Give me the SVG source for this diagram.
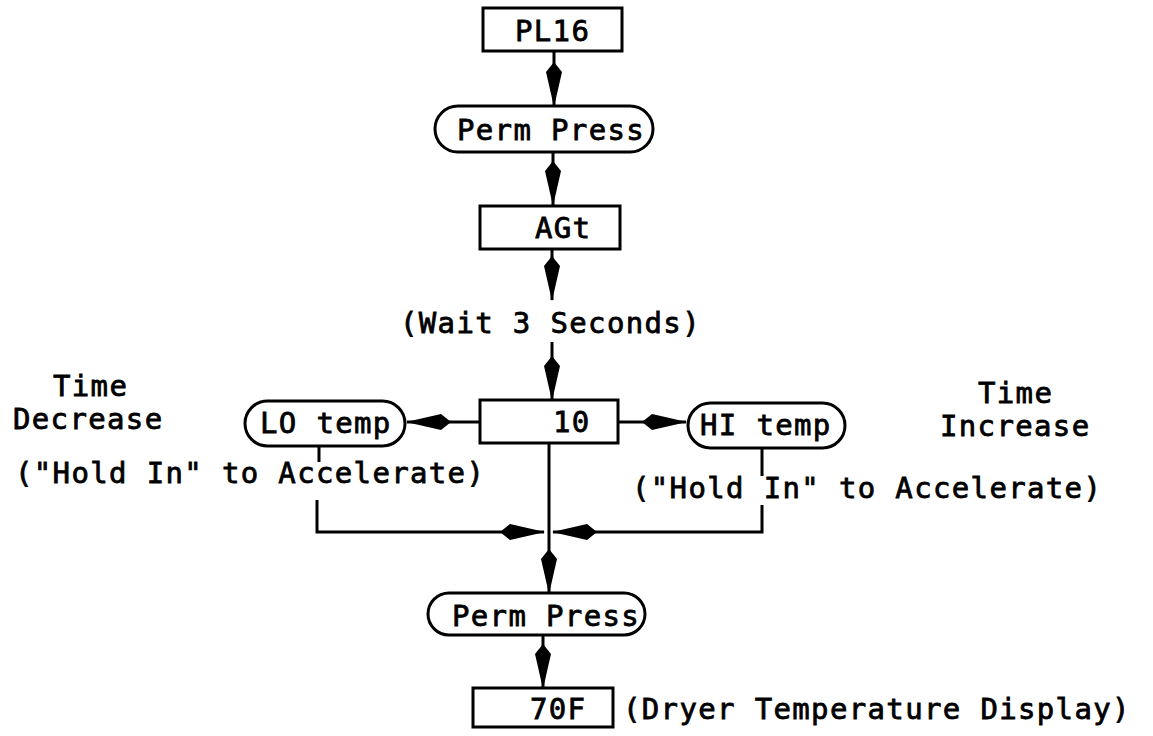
<svg xmlns="http://www.w3.org/2000/svg" width="1153" height="736" viewBox="0 0 1153 736">
<style>
.box{fill:#fff;stroke:#000;stroke-width:3}
.t{font-family:"DejaVu Sans Mono","Liberation Mono",monospace;font-size:29px;letter-spacing:1.35px;fill:#000;stroke:#000;stroke-width:0.8px}
.ln{fill:none;stroke:#000;stroke-width:3}
</style>
<defs>
<marker id="ah" viewBox="-48 -10 50 20" refX="0" refY="0" markerWidth="50" markerHeight="20" markerUnits="userSpaceOnUse" orient="auto">
<path d="M1,0 L-34,-8 L-44,0 L-34,8 Z" fill="#000"/>
</marker>
</defs>
<rect width="1153" height="736" fill="#fff"/>
<g id="connectors">
<line class="ln" x1="554" y1="52" x2="554" y2="106" marker-end="url(#ah)"/>
<line class="ln" x1="553" y1="152" x2="553" y2="205" marker-end="url(#ah)"/>
<line class="ln" x1="552" y1="249" x2="552" y2="300" marker-end="url(#ah)"/>
<line class="ln" x1="552" y1="342" x2="552" y2="400" marker-end="url(#ah)"/>
<line class="ln" x1="480" y1="422" x2="407" y2="422" marker-end="url(#ah)"/>
<line class="ln" x1="618" y1="422" x2="686" y2="422" marker-end="url(#ah)"/>
<line class="ln" x1="549" y1="443" x2="549" y2="593" marker-end="url(#ah)"/>
<line class="ln" x1="319" y1="446" x2="319" y2="462"/>
<polyline class="ln" points="317,500 317,532 544,532" marker-end="url(#ah)"/>
<line class="ln" x1="762" y1="448" x2="762" y2="476"/>
<polyline class="ln" points="762,505 762,532 553,532" marker-end="url(#ah)"/>
<line class="ln" x1="543" y1="635" x2="543" y2="688" marker-end="url(#ah)"/>
</g>
<g id="pl16"><rect class="box" x="483" y="8" width="139" height="43"/><text class="t" x="515" y="41">PL16</text></g>
<g id="permpress1"><rect class="box" x="435" y="106" width="218" height="46" rx="23"/><text class="t" x="457" y="140">Perm Press</text></g>
<g id="agt"><rect class="box" x="480" y="206" width="140" height="43"/><text class="t" x="535" y="238">AGt</text></g>
<g id="wait"><text class="t" x="400" y="333">(Wait 3 Seconds)</text></g>
<g id="ten"><rect class="box" x="480" y="400" width="138" height="43"/><text class="t" x="553" y="432">10</text></g>
<g id="lotemp"><rect class="box" x="245" y="401" width="160" height="45" rx="22.5"/><text class="t" x="260" y="433">LO temp</text></g>
<g id="hitemp"><rect class="box" x="688" y="403" width="157" height="45" rx="22.5"/><text class="t" x="700" y="435">HI temp</text></g>
<g id="timedecrease"><text class="t" x="53" y="396">Time</text><text class="t" x="13" y="429">Decrease</text></g>
<g id="timeincrease"><text class="t" x="978" y="403">Time</text><text class="t" x="940" y="436">Increase</text></g>
<g id="holdleft"><text class="t" x="15" y="483">("Hold In" to Accelerate)</text></g>
<g id="holdright"><text class="t" x="632" y="498">("Hold In" to Accelerate)</text></g>
<g id="permpress2"><rect class="box" x="428" y="593" width="217" height="42" rx="21"/><text class="t" x="452" y="626">Perm Press</text></g>
<g id="f70"><rect class="box" x="473" y="688" width="140" height="39"/><text class="t" x="530" y="719">70F</text></g>
<g id="dryer"><text class="t" x="623" y="719">(Dryer Temperature Display)</text></g>
</svg>
